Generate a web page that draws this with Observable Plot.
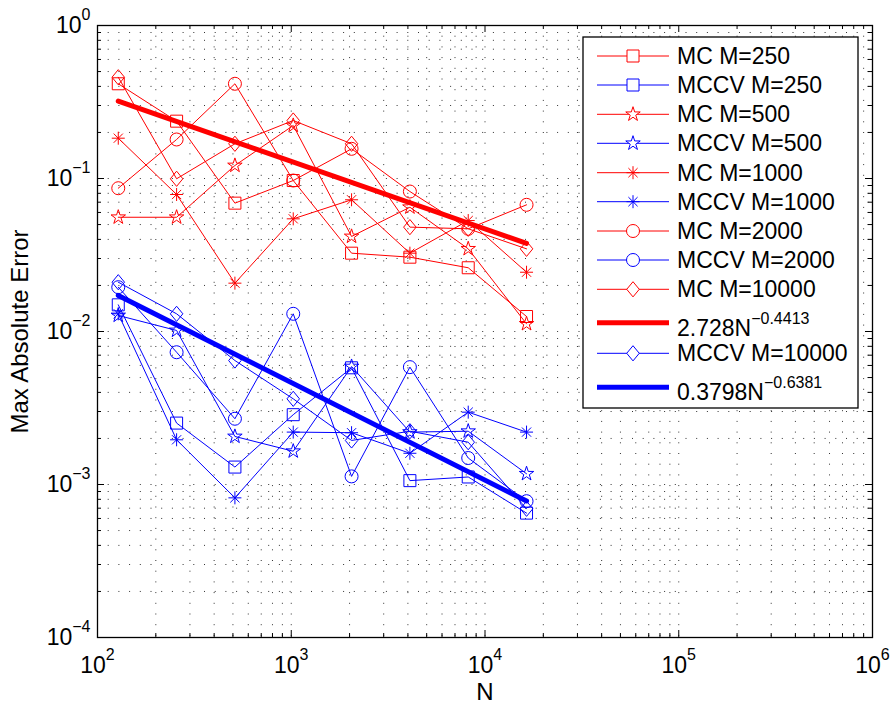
<!DOCTYPE html>
<html><head><meta charset="utf-8">
<script src="https://cdn.jsdelivr.net/npm/d3@7"></script>
<script src="https://cdn.jsdelivr.net/npm/@observablehq/plot@0.6"></script>
<style>
body{margin:0;background:#fff;}
#chart svg{display:block;}
</style></head><body><div id="chart"></div>
<script>
// ---- data ----
const N = [128, 256, 512, 1024, 2048, 4096, 8192, 16384];
const mc250     = [0.416, 0.237, 0.069, 0.097, 0.0325, 0.0306, 0.0261, 0.01253];
const mccv250   = [0.01494, 0.00252, 0.0013, 0.00286, 0.00579, 0.00106, 0.00112, 0.00065];
const mc500     = [0.0558, 0.0558, 0.1216, 0.222, 0.0418, 0.0649, 0.0347, 0.01122];
const mccv500   = [0.01273, 0.01016, 0.00206, 0.00165, 0.0059, 0.0022, 0.00223, 0.001175];
const mc1000    = [0.1834, 0.0786, 0.0207, 0.0545, 0.0726, 0.0325, 0.0531, 0.0244];
const mccv1000  = [0.01305, 0.00196, 0.000818, 0.0022, 0.00218, 0.0016, 0.00297, 0.0022];
const mc2000    = [0.0864, 0.1799, 0.416, 0.097, 0.1563, 0.0822, 0.0469, 0.0673];
const mccv2000  = [0.01948, 0.00732, 0.00269, 0.01305, 0.00113, 0.00585, 0.00149, 0.000778];
const mc10000   = [0.459, 0.0996, 0.1686, 0.2394, 0.1686, 0.0481, 0.0469, 0.0347];
const mccv10000 = [0.021, 0.01305, 0.00646, 0.00363, 0.00194, 0.00223, 0.00189, 0.000694];
const fitN    = [128, 16384];
const fitMC   = [0.3205, 0.0377];
const fitMCCV = [0.0172, 0.00078];
const xMajor = [1e2, 1e3, 1e4, 1e5, 1e6];
const yMajor = [1e-4, 1e-3, 1e-2, 1e-1, 1];
const xLabel = "N";
const yLabel = "Max Absolute Error";

// ---- MATLAB-like marker shapes ----
const rad = s => Math.sqrt(s / Math.PI);
const symSquare = {draw(c, s){const r = rad(s); c.moveTo(-r,-r); c.lineTo(r,-r); c.lineTo(r,r); c.lineTo(-r,r); c.closePath();}};
const symCircle = {draw(c, s){const r = rad(s); c.moveTo(r,0); c.arc(0,0,r,0,2*Math.PI); c.closePath();}};
const symDiamond = {draw(c, s){const r = rad(s), w = r*0.95, h = r*1.15; c.moveTo(0,-h); c.lineTo(w,0); c.lineTo(0,h); c.lineTo(-w,0); c.closePath();}};
const symStar = {draw(c, s){const R = rad(s), ri = R*0.382; for (let i = 0; i < 10; i++){const a = -Math.PI/2 + i*Math.PI/5, rr = i % 2 ? ri : R, x = rr*Math.cos(a), y = rr*Math.sin(a); if (i) c.lineTo(x,y); else c.moveTo(x,y);} c.closePath();}};
const symAst = {draw(c, s){const r = rad(s), d = r*0.707; c.moveTo(-r,0); c.lineTo(r,0); c.moveTo(0,-r); c.lineTo(0,r); c.moveTo(-d,-d); c.lineTo(d,d); c.moveTo(-d,d); c.lineTo(d,-d);}};

const RED = "#ff0000", BLUE = "#0000ff";
const series = [
  {name: "MC M=250",    x: N, y: mc250,    color: RED,  sym: symSquare,  r: 6},
  {name: "MCCV M=250",  x: N, y: mccv250,  color: BLUE, sym: symSquare,  r: 6},
  {name: "MC M=500",    x: N, y: mc500,    color: RED,  sym: symStar,    r: 7.6},
  {name: "MCCV M=500",  x: N, y: mccv500,  color: BLUE, sym: symStar,    r: 7.6},
  {name: "MC M=1000",   x: N, y: mc1000,   color: RED,  sym: symAst,     r: 6.5},
  {name: "MCCV M=1000", x: N, y: mccv1000, color: BLUE, sym: symAst,     r: 6.5},
  {name: "MC M=2000",   x: N, y: mc2000,   color: RED,  sym: symCircle,  r: 6.5},
  {name: "MCCV M=2000", x: N, y: mccv2000, color: BLUE, sym: symCircle,  r: 6.5},
  {name: "MC M=10000",  x: N, y: mc10000,  color: RED,  sym: symDiamond, r: 6.6},
  {name: "2.728N^−0.4413", x: fitN, y: fitMC, color: RED, fit: true},
  {name: "MCCV M=10000", x: N, y: mccv10000, color: BLUE, sym: symDiamond, r: 6.6},
  {name: "0.3798N^−0.6381", x: fitN, y: fitMCCV, color: BLUE, fit: true}
];

// ---- layout ----
const W = 891, H = 704, ML = 97, MR = 19, MT = 25, MB = 67;
const FW = W - ML - MR, FH = H - MT - MB;
const FONT = "'Liberation Sans', Arial, Helvetica, sans-serif";

const minors = (lo, hi) => {
  const out = [];
  for (let e = lo; e < hi; e++) for (let k = 1; k <= 9; k++) out.push(k * Math.pow(10, e));
  out.push(Math.pow(10, hi));
  return out;
};
const xAll = minors(2, 6), yAll = minors(-4, 0);
const xMinor = xAll.filter(v => !xMajor.some(m => Math.abs(m - v) / m < 1e-9));
const yMinor = yAll.filter(v => !yMajor.some(m => Math.abs(m - v) / m < 1e-9));
const gridStyle = {stroke: "#000", strokeOpacity: 0.8, strokeWidth: 1, strokeDasharray: "1,9.7"};

const marks = [
  Plot.ruleX(xAll.slice(1, -1), gridStyle),
  Plot.ruleY(yAll.slice(1, -1), gridStyle),
  // inward ticks on all four sides
  Plot.tickX(xMajor, {x: d => d, insetTop: FH - 7, stroke: "#000"}),
  Plot.tickX(xMajor, {x: d => d, insetBottom: FH - 7, stroke: "#000"}),
  Plot.tickX(xMinor, {x: d => d, insetTop: FH - 4, stroke: "#000"}),
  Plot.tickX(xMinor, {x: d => d, insetBottom: FH - 4, stroke: "#000"}),
  Plot.tickY(yMajor, {y: d => d, insetRight: FW - 7, stroke: "#000"}),
  Plot.tickY(yMajor, {y: d => d, insetLeft: FW - 7, stroke: "#000"}),
  Plot.tickY(yMinor, {y: d => d, insetRight: FW - 4, stroke: "#000"}),
  Plot.tickY(yMinor, {y: d => d, insetLeft: FW - 4, stroke: "#000"})
];
for (const s of series) {
  const rows = s.x.map((x, i) => ({x, y: s.y[i]}));
  marks.push(Plot.line(rows, {x: "x", y: "y", stroke: s.color, strokeWidth: s.fit ? 5 : 1}));
  if (!s.fit) marks.push(Plot.dot(rows, {x: "x", y: "y", symbol: s.sym, r: s.r, stroke: s.color, fill: "none", strokeWidth: 1}));
}
marks.push(
  Plot.frame({stroke: "#000", strokeWidth: 1.3}),
  Plot.axisX(xMajor, {anchor: "bottom", tickSize: 0, tickPadding: 19, tickFormat: d => "10^" + Math.round(Math.log10(d)), fontSize: 23, label: null}),
  Plot.axisY(yMajor, {anchor: "left", tickSize: 0, tickPadding: 7, tickFormat: d => "10^" + Math.round(Math.log10(d)), fontSize: 23, label: null}),
  Plot.text([xLabel], {text: d => d, frameAnchor: "bottom", dy: 55, fontSize: 24, textAnchor: "middle"}),
  Plot.text([yLabel], {text: d => d, frameAnchor: "left", dx: -77, rotate: -90, fontSize: 24, textAnchor: "middle"})
);

const svg = Plot.plot({
  width: W, height: H,
  marginLeft: ML, marginRight: MR, marginTop: MT, marginBottom: MB,
  x: {type: "log", domain: [1e2, 1e6], label: null},
  y: {type: "log", domain: [1e-4, 1], label: null},
  style: {fontFamily: FONT, fontSize: "23px", color: "#000", background: "#fff", overflow: "visible"},
  marks
});
document.getElementById("chart").append(svg);

// ---- superscripts in tick labels (keep Plot's own positioning attributes) ----
const NS = "http://www.w3.org/2000/svg";
d3.select(svg).selectAll("text").each(function() {
  const m = /^10\^(-?\d+)$/.exec(this.textContent);
  if (!m) return;
  const exp = m[1].replace("-", "−");
  const inner = this.querySelector("tspan");
  const sup = document.createElementNS(NS, "tspan");
  sup.setAttribute("font-size", 16);
  sup.setAttribute("dy", -13);
  sup.textContent = exp;
  if (inner) {
    inner.textContent = "10";
    inner.after(sup);
  } else {
    this.textContent = "10";
    this.appendChild(sup);
  }
});

// ---- fine vertical placement of bottom texts (baseline targets) ----
function setBaseline(el, baseline, fs) {
  const top0 = svg.getBoundingClientRect().top;
  const bottom = el.getBoundingClientRect().bottom - top0;
  const delta = baseline + 0.212 * fs - bottom;
  el.setAttribute("transform", ((el.getAttribute("transform") || "") + ` translate(0,${delta.toFixed(2)})`).trim());
}
d3.select(svg).selectAll("text").each(function() {
  const r = this.getBoundingClientRect();
  const top0 = svg.getBoundingClientRect().top;
  if (/^10/.test(this.textContent) && r.top - top0 > 640) setBaseline(this, 673, 23);
  else if (this.textContent === xLabel) setBaseline(this, 700, 24);
});

// ---- legend ----
const root = d3.select(svg);
const lg = root.append("g").attr("font-family", FONT).attr("font-size", 23).attr("text-anchor", "start");
lg.append("rect").attr("x", 583).attr("y", 37).attr("width", 275).attr("height", 371)
  .attr("fill", "#fff").attr("stroke", "#000").attr("stroke-width", 1.3);
const rowY = [56, 85, 114.3, 143.3, 172.7, 201.7, 231, 260, 289.3, 322.7, 353.3, 387.3];
series.forEach((s, i) => {
  const y = rowY[i];
  lg.append("line").attr("x1", 597).attr("x2", 669).attr("y1", y).attr("y2", y)
    .attr("stroke", s.color).attr("stroke-width", s.fit ? 5 : 1);
  if (!s.fit) {
    lg.append("path").attr("d", d3.symbol(s.sym, s.r * s.r * Math.PI)())
      .attr("transform", `translate(633,${y})`).attr("fill", "#fff").attr("stroke", s.color).attr("stroke-width", 1);
  }
  const t = lg.append("text").attr("x", 677).attr("y", y + (s.fit ? 5 : 0)).attr("dy", "0.35em")
    .attr("fill", "#000").attr("text-anchor", "start");
  if (s.fit) {
    const [b, e] = s.name.split("^");
    t.text(b);
    t.append("tspan").attr("font-size", 16).attr("dy", -12).text(e);
  } else t.text(s.name);
});
</script>
</body></html>
